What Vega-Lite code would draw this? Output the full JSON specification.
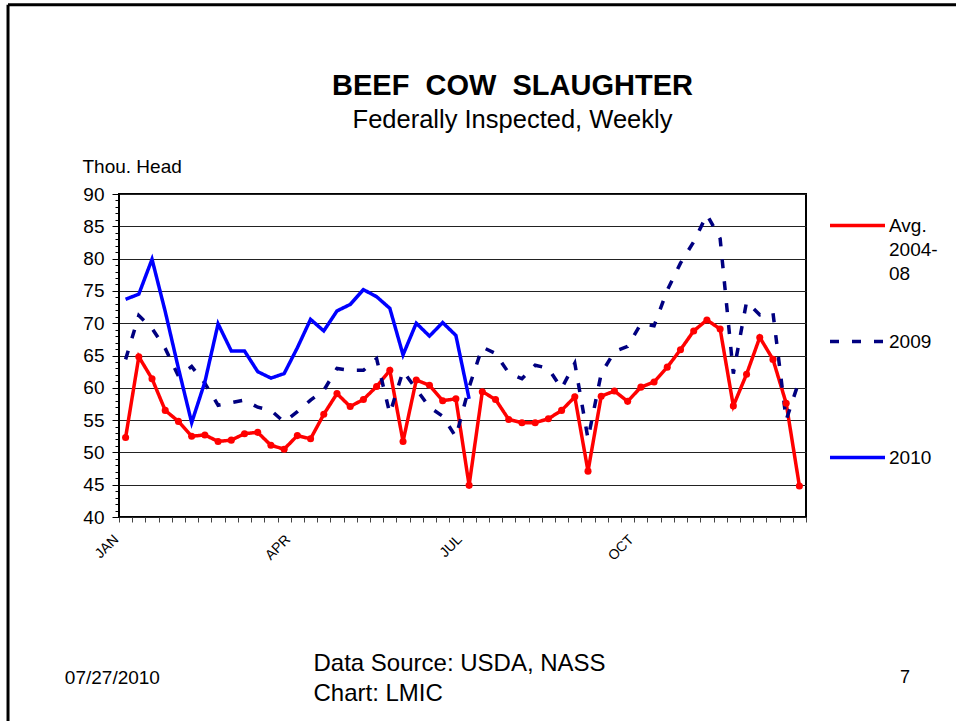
{
  "$schema": "https://vega.github.io/schema/vega-lite/v6.json",
  "width": 687,
  "height": 323,
  "autosize": {"type": "none"},
  "padding": {"left": 119, "top": 194, "right": 150, "bottom": 204},
  "background": "white",
  "title": {
    "text": "BEEF \u00a0COW \u00a0SLAUGHTER",
    "subtitle": "Federally Inspected, Weekly",
    "font": "Liberation Sans",
    "fontSize": 29,
    "fontWeight": "bold",
    "color": "black",
    "subtitleFont": "Liberation Sans",
    "subtitleFontSize": 25.5,
    "subtitleColor": "black",
    "anchor": "middle",
    "dx": 50,
    "offset": -130,
    "subtitlePadding": 7
  },
  "config": {
    "view": {"stroke": "black", "strokeWidth": 2},
    "font": "Liberation Sans"
  },
  "datasets": {
    "weekly": [
      {"week": 1, "series": "Avg. 2004-08", "value": 52.3},
      {"week": 2, "series": "Avg. 2004-08", "value": 64.8},
      {"week": 3, "series": "Avg. 2004-08", "value": 61.4},
      {"week": 4, "series": "Avg. 2004-08", "value": 56.5},
      {"week": 5, "series": "Avg. 2004-08", "value": 54.8},
      {"week": 6, "series": "Avg. 2004-08", "value": 52.5},
      {"week": 7, "series": "Avg. 2004-08", "value": 52.7},
      {"week": 8, "series": "Avg. 2004-08", "value": 51.7},
      {"week": 9, "series": "Avg. 2004-08", "value": 51.9},
      {"week": 10, "series": "Avg. 2004-08", "value": 52.9},
      {"week": 11, "series": "Avg. 2004-08", "value": 53.1},
      {"week": 12, "series": "Avg. 2004-08", "value": 51.1},
      {"week": 13, "series": "Avg. 2004-08", "value": 50.5},
      {"week": 14, "series": "Avg. 2004-08", "value": 52.6},
      {"week": 15, "series": "Avg. 2004-08", "value": 52.1},
      {"week": 16, "series": "Avg. 2004-08", "value": 55.9},
      {"week": 17, "series": "Avg. 2004-08", "value": 59.1},
      {"week": 18, "series": "Avg. 2004-08", "value": 57.1},
      {"week": 19, "series": "Avg. 2004-08", "value": 58.2},
      {"week": 20, "series": "Avg. 2004-08", "value": 60.2},
      {"week": 21, "series": "Avg. 2004-08", "value": 62.7},
      {"week": 22, "series": "Avg. 2004-08", "value": 51.7},
      {"week": 23, "series": "Avg. 2004-08", "value": 61.2},
      {"week": 24, "series": "Avg. 2004-08", "value": 60.4},
      {"week": 25, "series": "Avg. 2004-08", "value": 58.0},
      {"week": 26, "series": "Avg. 2004-08", "value": 58.3},
      {"week": 27, "series": "Avg. 2004-08", "value": 44.9},
      {"week": 28, "series": "Avg. 2004-08", "value": 59.4},
      {"week": 29, "series": "Avg. 2004-08", "value": 58.2},
      {"week": 30, "series": "Avg. 2004-08", "value": 55.1},
      {"week": 31, "series": "Avg. 2004-08", "value": 54.6},
      {"week": 32, "series": "Avg. 2004-08", "value": 54.6},
      {"week": 33, "series": "Avg. 2004-08", "value": 55.2},
      {"week": 34, "series": "Avg. 2004-08", "value": 56.5},
      {"week": 35, "series": "Avg. 2004-08", "value": 58.6},
      {"week": 36, "series": "Avg. 2004-08", "value": 47.1},
      {"week": 37, "series": "Avg. 2004-08", "value": 58.7},
      {"week": 38, "series": "Avg. 2004-08", "value": 59.5},
      {"week": 39, "series": "Avg. 2004-08", "value": 57.9},
      {"week": 40, "series": "Avg. 2004-08", "value": 60.1},
      {"week": 41, "series": "Avg. 2004-08", "value": 60.9},
      {"week": 42, "series": "Avg. 2004-08", "value": 63.2},
      {"week": 43, "series": "Avg. 2004-08", "value": 65.9},
      {"week": 44, "series": "Avg. 2004-08", "value": 68.8},
      {"week": 45, "series": "Avg. 2004-08", "value": 70.5},
      {"week": 46, "series": "Avg. 2004-08", "value": 69.1},
      {"week": 47, "series": "Avg. 2004-08", "value": 57.2},
      {"week": 48, "series": "Avg. 2004-08", "value": 62.1},
      {"week": 49, "series": "Avg. 2004-08", "value": 67.8},
      {"week": 50, "series": "Avg. 2004-08", "value": 64.4},
      {"week": 51, "series": "Avg. 2004-08", "value": 57.6},
      {"week": 52, "series": "Avg. 2004-08", "value": 44.8},
      {"week": 1, "series": "2009", "value": 64.4},
      {"week": 2, "series": "2009", "value": 71.2},
      {"week": 3, "series": "2009", "value": 69.2},
      {"week": 4, "series": "2009", "value": 66.1},
      {"week": 5, "series": "2009", "value": 61.8},
      {"week": 6, "series": "2009", "value": 63.3},
      {"week": 7, "series": "2009", "value": 60.7},
      {"week": 8, "series": "2009", "value": 57.3},
      {"week": 9, "series": "2009", "value": 57.7},
      {"week": 10, "series": "2009", "value": 58.1},
      {"week": 11, "series": "2009", "value": 57.0},
      {"week": 12, "series": "2009", "value": 56.5},
      {"week": 13, "series": "2009", "value": 54.7},
      {"week": 14, "series": "2009", "value": 56.3},
      {"week": 15, "series": "2009", "value": 58.1},
      {"week": 16, "series": "2009", "value": 59.6},
      {"week": 17, "series": "2009", "value": 63.0},
      {"week": 18, "series": "2009", "value": 62.7},
      {"week": 19, "series": "2009", "value": 62.7},
      {"week": 20, "series": "2009", "value": 64.5},
      {"week": 21, "series": "2009", "value": 56.0},
      {"week": 22, "series": "2009", "value": 62.6},
      {"week": 23, "series": "2009", "value": 59.8},
      {"week": 24, "series": "2009", "value": 57.0},
      {"week": 25, "series": "2009", "value": 55.6},
      {"week": 26, "series": "2009", "value": 52.4},
      {"week": 27, "series": "2009", "value": 60.1},
      {"week": 28, "series": "2009", "value": 66.3},
      {"week": 29, "series": "2009", "value": 65.3},
      {"week": 30, "series": "2009", "value": 62.3},
      {"week": 31, "series": "2009", "value": 61.4},
      {"week": 32, "series": "2009", "value": 63.5},
      {"week": 33, "series": "2009", "value": 63.0},
      {"week": 34, "series": "2009", "value": 59.9},
      {"week": 35, "series": "2009", "value": 63.8},
      {"week": 36, "series": "2009", "value": 52.1},
      {"week": 37, "series": "2009", "value": 62.2},
      {"week": 38, "series": "2009", "value": 65.6},
      {"week": 39, "series": "2009", "value": 66.4},
      {"week": 40, "series": "2009", "value": 69.9},
      {"week": 41, "series": "2009", "value": 69.6},
      {"week": 42, "series": "2009", "value": 75.1},
      {"week": 43, "series": "2009", "value": 79.3},
      {"week": 44, "series": "2009", "value": 82.6},
      {"week": 45, "series": "2009", "value": 86.8},
      {"week": 46, "series": "2009", "value": 83.1},
      {"week": 47, "series": "2009", "value": 62.2},
      {"week": 48, "series": "2009", "value": 73.3},
      {"week": 49, "series": "2009", "value": 71.3},
      {"week": 50, "series": "2009", "value": 71.6},
      {"week": 51, "series": "2009", "value": 55.0},
      {"week": 52, "series": "2009", "value": 61.2},
      {"week": 1, "series": "2010", "value": 73.7},
      {"week": 2, "series": "2010", "value": 74.5},
      {"week": 3, "series": "2010", "value": 79.9},
      {"week": 4, "series": "2010", "value": 71.8},
      {"week": 5, "series": "2010", "value": 63.0},
      {"week": 6, "series": "2010", "value": 54.6},
      {"week": 7, "series": "2010", "value": 60.9},
      {"week": 8, "series": "2010", "value": 69.9},
      {"week": 9, "series": "2010", "value": 65.7},
      {"week": 10, "series": "2010", "value": 65.7},
      {"week": 11, "series": "2010", "value": 62.5},
      {"week": 12, "series": "2010", "value": 61.5},
      {"week": 13, "series": "2010", "value": 62.2},
      {"week": 14, "series": "2010", "value": 66.2},
      {"week": 15, "series": "2010", "value": 70.6},
      {"week": 16, "series": "2010", "value": 68.8},
      {"week": 17, "series": "2010", "value": 71.9},
      {"week": 18, "series": "2010", "value": 72.9},
      {"week": 19, "series": "2010", "value": 75.2},
      {"week": 20, "series": "2010", "value": 74.1},
      {"week": 21, "series": "2010", "value": 72.3},
      {"week": 22, "series": "2010", "value": 65.1},
      {"week": 23, "series": "2010", "value": 70.0},
      {"week": 24, "series": "2010", "value": 68.0},
      {"week": 25, "series": "2010", "value": 70.1},
      {"week": 26, "series": "2010", "value": 68.1},
      {"week": 27, "series": "2010", "value": 58.3}
    ],
    "footer": [
      {"label": "07/27/2010", "pos": "date"},
      {"label": "7", "pos": "page"}
    ],
    "frame": [
      {"edge": "slide"}
    ]
  },
  "layer": [
    {
      "data": {"name": "weekly"},
      "mark": {"type": "line", "strokeWidth": 3.5, "clip": true},
      "encoding": {
        "x": {
          "field": "week",
          "type": "quantitative",
          "scale": {"domain": [0.5, 52.5], "nice": false, "zero": false},
          "axis": {
            "values": [0.5, 1.5, 2.5, 3.5, 4.5, 5.5, 6.5, 7.5, 8.5, 9.5, 10.5, 11.5, 12.5, 13.5, 14.5, 15.5, 16.5, 17.5, 18.5, 19.5, 20.5, 21.5, 22.5, 23.5, 24.5, 25.5, 26.5, 27.5, 28.5, 29.5, 30.5, 31.5, 32.5, 33.5, 34.5, 35.5, 36.5, 37.5, 38.5, 39.5, 40.5, 41.5, 42.5, 43.5, 44.5, 45.5, 46.5, 47.5, 48.5, 49.5, 50.5, 51.5, 52.5],
            "tickCount": 100,
            "labelExpr": "datum.value == 0.5 ? 'JAN' : datum.value == 13.5 ? 'APR' : datum.value == 26.5 ? 'JUL' : datum.value == 39.5 ? 'OCT' : ''",
            "labelAngle": -45,
            "labelAlign": "right",
            "labelBaseline": "middle",
            "labelFontSize": 14,
            "labelColor": "black",
            "labelPadding": 15,
            "labelOffset": -3,
            "labelOverlap": false,
            "labelBound": false,
            "labelFlush": false,
            "tickSize": 5,
            "tickColor": "#444",
            "tickWidth": 1,
            "domain": false,
            "grid": false,
            "title": ["Data Source: USDA, NASS", "Chart: LMIC"],
            "titleFontSize": 24,
            "titleFontWeight": "normal",
            "titleColor": "black",
            "titleAlign": "left",
            "titleBaseline": "top",
            "titleLineHeight": 30,
            "titleX": 194,
            "titleY": 134
          }
        },
        "y": {
          "field": "value",
          "type": "quantitative",
          "scale": {"domain": [40, 90], "nice": false, "zero": false},
          "axis": {
            "values": [40, 41, 42, 43, 44, 45, 46, 47, 48, 49, 50, 51, 52, 53, 54, 55, 56, 57, 58, 59, 60, 61, 62, 63, 64, 65, 66, 67, 68, 69, 70, 71, 72, 73, 74, 75, 76, 77, 78, 79, 80, 81, 82, 83, 84, 85, 86, 87, 88, 89, 90],
            "tickCount": 100,
            "labelExpr": "datum.value % 5 === 0 ? format(datum.value, 'd') : ''",
            "labelFontSize": 19,
            "labelColor": "black",
            "labelPadding": 8,
            "labelOverlap": false,
            "labelBound": false,
            "labelFlush": false,
            "tickSize": {"condition": {"test": "datum.value % 5 === 0", "value": 7}, "value": 4},
            "tickColor": "black",
            "tickWidth": 1,
            "domain": false,
            "grid": true,
            "gridColor": "#222",
            "gridWidth": 1,
            "gridOpacity": {"condition": {"test": "datum.value % 5 === 0", "value": 1}, "value": 0},
            "title": "Thou. Head",
            "titleAngle": 0,
            "titleAlign": "left",
            "titleBaseline": "middle",
            "titleFontSize": 19,
            "titleFontWeight": "normal",
            "titleColor": "black",
            "titleX": -37,
            "titleY": -28
          }
        },
        "color": {
          "field": "series",
          "type": "nominal",
          "scale": {"domain": ["Avg. 2004-08", "2009", "2010"], "range": ["#FF0000", "#000080", "#0000FF"]},
          "legend": {
            "orient": "none",
            "legendX": 709,
            "legendY": 2,
            "title": null,
            "symbolType": "stroke",
            "symbolSize": 3025,
            "symbolStrokeWidth": 3.5,
            "labelFontSize": 19,
            "labelColor": "black",
            "labelOffset": 2,
            "rowPadding": 28,
            "labelLimit": 200,
            "labelExpr": "datum.label == 'Avg. 2004-08' ? ['Avg.', '2004-', '08'] : [datum.label, '', '']",
            "encode": {"labels": {"update": {"lineHeight": {"value": 24}}}}
          }
        },
        "strokeDash": {
          "field": "series",
          "type": "nominal",
          "scale": {"domain": ["Avg. 2004-08", "2009", "2010"], "range": [[1, 0], [9, 13], [1, 0]]},
          "legend": {
            "orient": "none",
            "legendX": 709,
            "legendY": 2,
            "title": null,
            "symbolType": "stroke",
            "symbolSize": 3025,
            "symbolStrokeWidth": 3.5,
            "labelFontSize": 19,
            "labelColor": "black",
            "labelOffset": 2,
            "rowPadding": 28,
            "labelLimit": 200,
            "labelExpr": "datum.label == 'Avg. 2004-08' ? ['Avg.', '2004-', '08'] : [datum.label, '', '']",
            "encode": {"labels": {"update": {"lineHeight": {"value": 24}}}}
          }
        }
      }
    },
    {
      "data": {"name": "weekly"},
      "transform": [{"filter": "datum.series == 'Avg. 2004-08'"}],
      "mark": {"type": "point", "filled": true, "size": 50, "color": "#FF0000", "opacity": 1},
      "encoding": {
        "x": {"field": "week", "type": "quantitative"},
        "y": {"field": "value", "type": "quantitative"}
      }
    },
    {
      "data": {"name": "footer"},
      "transform": [{"filter": "datum.pos == 'date'"}],
      "mark": {"type": "text", "fontSize": 19, "color": "black", "align": "center", "baseline": "middle", "clip": false},
      "encoding": {
        "text": {"field": "label"},
        "x": {"datum": 0},
        "y": {"datum": 15.1}
      }
    },
    {
      "data": {"name": "footer"},
      "transform": [{"filter": "datum.pos == 'page'"}],
      "mark": {"type": "text", "fontSize": 18, "color": "black", "align": "center", "baseline": "middle", "clip": false},
      "encoding": {
        "text": {"field": "label"},
        "x": {"datum": 60},
        "y": {"datum": 15.1}
      }
    },
    {
      "data": {"name": "frame"},
      "mark": {"type": "rule", "color": "black", "strokeWidth": 3, "clip": false},
      "encoding": {
        "x": {"datum": -7.9},
        "y": {"datum": 119.3},
        "y2": {"datum": 0}
      }
    },
    {
      "data": {"name": "frame"},
      "mark": {"type": "rule", "color": "black", "strokeWidth": 3, "clip": false},
      "encoding": {
        "x": {"datum": -7.9},
        "x2": {"datum": 70},
        "y": {"datum": 119.3}
      }
    }
  ]
}
